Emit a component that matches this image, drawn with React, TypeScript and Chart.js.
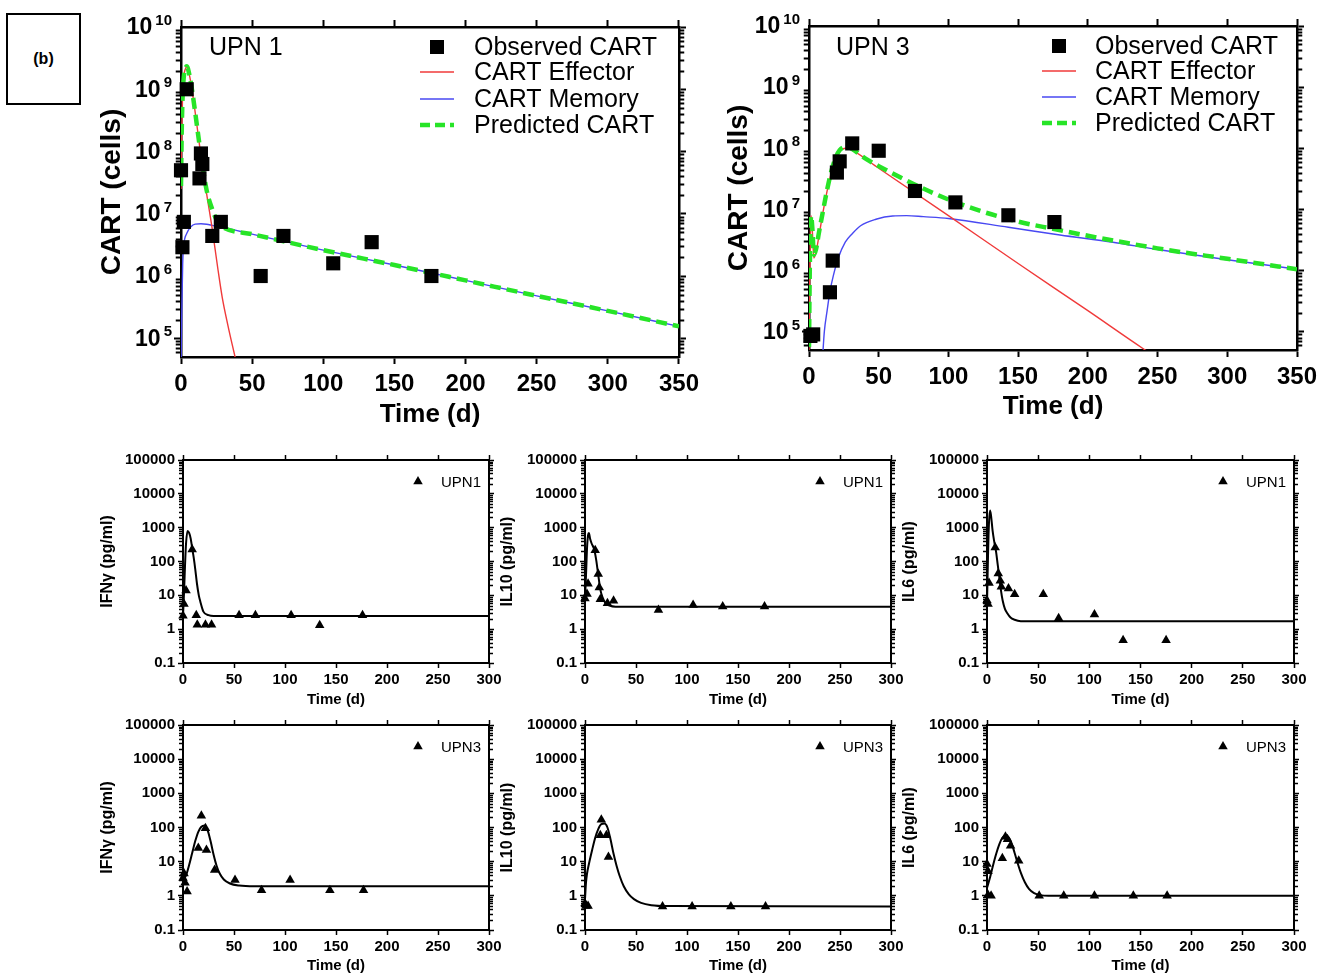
import React, { useEffect, useRef } from 'react';
import { Chart, registerables } from 'chart.js';

Chart.register(...registerables);

const FONT = "'Liberation Sans', Arial, 'DejaVu Sans', sans-serif";
const RED = '#f03a3a';
const BLUE = '#4848f2';
const GREEN = '#27e427';

// ---------- CAR-T kinetics, UPN 1 (days, cells) ----------
const upn1ObservedDays = [0, 1, 2, 4, 13, 14, 15, 22, 28, 56, 72, 107, 134, 176];
const upn1ObservedCells = [5.0e7, 2.9e6, 7.4e6, 1.0e9, 3.7e7, 9.3e7, 6.3e7, 4.4e6, 7.4e6, 1.0e6, 4.4e6, 1.6e6, 3.5e6, 1.0e6];

const upn1EffectorDays = [0, 0.5, 1, 2, 3, 4, 6, 8, 10, 12, 14, 18, 22, 26, 29, 33, 36, 38, 40];
const upn1EffectorCells = [2.5e7, 2.0e8, 6.3e8, 1.6e9, 2.1e9, 2.3e9, 1.66e9, 8.9e8, 4.2e8, 1.9e8, 8.5e7, 2.1e7, 5.6e6, 1.26e6, 4.5e5, 1.6e5, 7.9e4, 5.0e4, 3.2e4];

const upn1MemoryDays = [0, 0.6, 1.2, 2, 4, 7, 10, 14, 18, 22, 26, 30, 50, 100, 150, 200, 250, 300, 350];
const upn1MemoryCells = [3.0e4, 3.2e5, 1.6e6, 3.2e6, 4.8e6, 6.2e6, 6.8e6, 6.9e6, 6.8e6, 6.5e6, 6.2e6, 6.0e6, 4.7e6, 2.6e6, 1.5e6, 8.5e5, 4.8e5, 2.75e5, 1.55e5];

const upn1PredictedDays = [0, 0.5, 1, 2, 3, 4, 6, 8, 10, 12, 14, 18, 22, 26, 30, 50, 100, 150, 200, 250, 300, 350];
const upn1PredictedCells = [2.8e7, 2.0e8, 6.3e8, 1.6e9, 2.1e9, 2.35e9, 1.66e9, 8.9e8, 4.2e8, 1.9e8, 8.7e7, 2.4e7, 1.17e7, 7.2e6, 6.0e6, 4.7e6, 2.6e6, 1.5e6, 8.5e5, 4.8e5, 2.75e5, 1.55e5];

// ---------- CAR-T kinetics, UPN 3 (days, cells) ----------
const upn3ObservedDays = [1, 3, 15, 17, 20, 22, 31, 50, 76, 105, 143, 176];
const upn3ObservedCells = [8.5e4, 9.0e4, 4.4e5, 1.45e6, 4.0e7, 6.1e7, 1.2e8, 9.1e7, 2.0e7, 1.3e7, 8.0e6, 6.2e6];

const upn3EffectorDays = [0, 0.5, 1, 1.5, 2.5, 3.5, 5, 7, 10, 13, 16, 19, 22, 26, 30, 50, 100, 150, 200, 240, 250];
const upn3EffectorCells = [5.0e4, 6.3e5, 4.0e6, 7.9e6, 4.0e6, 1.6e6, 2.0e6, 3.5e6, 8.9e6, 2.0e7, 4.0e7, 6.6e7, 8.9e7, 1.0e8, 9.5e7, 4.7e7, 7.9e6, 1.3e6, 2.2e5, 5.2e4, 3.7e4];

const upn3MemoryDays = [9.8, 11, 13, 15, 17.5, 21, 26, 31, 37, 48, 60, 70, 82, 100, 143, 180, 218, 250, 300, 350];
const upn3MemoryCells = [4.0e4, 1.0e5, 2.2e5, 4.5e5, 8.3e5, 1.6e6, 2.9e6, 4.0e6, 5.4e6, 6.9e6, 7.8e6, 7.9e6, 7.6e6, 7.1e6, 5.1e6, 3.8e6, 2.9e6, 2.2e6, 1.5e6, 1.05e6];

const upn3PredictedDays = [0, 0.5, 1, 1.5, 2.5, 3.5, 5, 7, 10, 13, 16, 19, 22, 26, 30, 40, 50, 75, 100, 125, 150, 175, 200, 250, 300, 350];
const upn3PredictedCells = [5.6e4, 8.0e5, 4.0e6, 7.9e6, 4.5e6, 1.8e6, 2.2e6, 4.0e6, 9.3e6, 2.1e7, 4.2e7, 6.9e7, 9.3e7, 1.05e8, 1.0e8, 6.9e7, 5.1e7, 2.6e7, 1.45e7, 9.1e6, 6.3e6, 4.8e6, 3.7e6, 2.3e6, 1.55e6, 1.05e6];

// ---------- Cytokines, UPN 1 (days, pg/ml) ----------
const ifngUpn1Days = [0, 1, 3, 9, 13, 14, 22, 28, 55, 71, 106, 134, 176];
const ifngUpn1Values = [2.5, 5.5, 14, 225, 2.6, 1.35, 1.35, 1.35, 2.6, 2.6, 2.6, 1.3, 2.6];
const ifngUpn1FitDays = [0, 1, 2, 3, 4.5, 6, 7.5, 9, 10.5, 12, 13.7, 15.5, 17, 20, 25, 30, 300];
const ifngUpn1Fit = [2.5, 12, 80, 350, 800, 700, 480, 250, 130, 60, 22, 10, 6.5, 3.3, 2.6, 2.45, 2.45];

const il10Upn1Days = [0, 2, 3, 10, 13, 14, 15, 22, 28, 72, 106, 135, 176];
const il10Upn1Values = [8, 11, 22, 215, 43, 17, 7.6, 5.8, 6.9, 3.7, 5.2, 4.7, 4.7];
const il10Upn1FitDays = [0, 1, 2, 3, 3.8, 5, 6.5, 9, 11, 13, 15, 17, 20, 24, 30, 300];
const il10Upn1Fit = [8, 40, 250, 600, 700, 470, 340, 230, 110, 40, 15, 9, 6, 5, 4.6, 4.6];

const il6Upn1Days = [0, 1, 2, 8, 11, 13, 14, 21, 27, 55, 70, 105, 133, 175];
const il6Upn1Values = [7, 5.5, 23, 260, 44, 27, 18, 16, 10.7, 10.7, 2.1, 2.7, 0.47, 0.47];
const il6Upn1FitDays = [0, 0.5, 1, 1.5, 2, 3, 4, 5.5, 7, 8.8, 10.5, 12, 13.5, 15.3, 17.5, 20, 23, 27, 33, 40, 300];
const il6Upn1Fit = [5, 30, 150, 600, 1500, 3200, 2200, 800, 400, 200, 80, 35, 15, 7, 4, 2.9, 2.2, 1.9, 1.72, 1.7, 1.7];

// ---------- Cytokines, UPN 3 (days, pg/ml) ----------
const ifngUpn3Days = [0, 1, 2, 4, 15, 18, 22, 23, 31, 51, 77, 105, 144, 177];
const ifngUpn3Values = [3.3, 4.5, 2.4, 1.35, 25, 220, 95, 22, 5.7, 2.9, 1.45, 2.9, 1.45, 1.45];
const ifngUpn3FitDays = [0, 3, 6, 9, 12, 15, 18, 21, 24, 27, 30, 33, 36, 40, 46, 55, 70, 300];
const ifngUpn3Fit = [3, 4, 8, 18, 40, 75, 105, 115, 85, 40, 16, 7.5, 4.5, 3, 2.3, 2.0, 1.9, 1.9];

const il10Upn3Days = [0, 1, 3, 15, 16, 21, 23, 76, 105, 143, 177];
const il10Upn3Values = [0.6, 0.5, 0.5, 59, 170, 59, 13.6, 0.49, 0.49, 0.49, 0.49];
const il10Upn3FitDays = [0, 1, 2, 4, 7, 10, 13, 16, 19, 22, 25, 28, 31, 34, 38, 43, 48, 55, 65, 80, 300];
const il10Upn3Fit = [0.8, 2.5, 4.5, 9, 22, 50, 90, 125, 130, 100, 45, 17, 7.5, 3.8, 1.9, 1.1, 0.8, 0.62, 0.53, 0.5, 0.49];

const il6Upn3Days = [0, 1, 1, 4, 15, 18, 20, 23, 31, 51, 75, 105, 143, 176];
const il6Upn3Values = [8.5, 5.2, 1.05, 1.0, 12.6, 54, 45, 29, 10.7, 1.0, 1.0, 1.0, 1.0, 1.0];
const il6Upn3FitDays = [0, 3, 6, 9, 12, 15, 18, 21, 24, 27, 30, 33, 37, 41, 46, 52, 60, 300];
const il6Upn3Fit = [1.7, 3.5, 8, 17, 32, 50, 58, 52, 35, 18, 9, 4.8, 2.5, 1.6, 1.2, 1.05, 1.0, 1.0];

// ---------- Tick labels ----------
const cartTickExponents = [5, 6, 7, 8, 9, 10];
const cytokineTickLabels = ['0.1', '1', '10', '100', '1000', '10000', '100000'];

type Box = { x: number; y: number; w: number; h: number };
type Area = { l: number; t: number; r: number; b: number };
type LegendItem = { kind: 'square' | 'line' | 'dash' | 'triangle'; color: string; text: string };

interface PanelSpec {
  key: string;
  big: boolean;
  box: Box;
  area: Area;
  xMax: number;
  yMin: number;
  yMax: number;
  yTitle: string;
  yTitleX: number;
  xTitleY: number;
  datasets: any[];
  legend: { symX: number; textX: number; rows: number[]; items: LegendItem[]; font: string; lineHalf: number; markSize: number };
  note?: { text: string; x: number; y: number; font: string };
}

const BIG = { axisWidth: 2.5, tickMajor: 7, tickMinor: 4, tickWidth: 2, tickFont: 24, xTitleSize: 26, yTitleSize: 28, xTickPad: 6, yTickPad: 3 };
const SMALL = { axisWidth: 2, tickMajor: 5, tickMinor: 3, tickWidth: 1.5, tickFont: 15, xTitleSize: 15, yTitleSize: 16, xTickPad: 3, yTickPad: 3 };

const pts = (xs: number[], ys: number[]) => xs.map((x, i) => ({ x, y: ys[i] }));

function drawTriangle(ctx: CanvasRenderingContext2D, x: number, y: number, r: number) {
  ctx.beginPath();
  for (let k = 0; k < 3; k++) {
    const a = (k * 2 * Math.PI) / 3;
    const px = x + Math.sin(a) * r;
    const py = y - Math.cos(a) * r;
    if (k === 0) ctx.moveTo(px, py);
    else ctx.lineTo(px, py);
  }
  ctx.closePath();
  ctx.fill();
}

// Minor log ticks, superscript decade labels, in-plot legend and panel tag
const decorPlugin = {
  id: 'decor',
  afterDraw(chart: any, _args: any, opts: any) {
    const { ctx, chartArea } = chart;
    ctx.save();
    ctx.strokeStyle = '#000';
    ctx.fillStyle = '#000';

    const sides: [string, number][] = [['y', -1], ['yRight', 1]];
    for (const [id, dir] of sides) {
      const s = chart.scales[id];
      const x0 = dir < 0 ? chartArea.left : chartArea.right;
      const lo = Math.floor(Math.log10(s.min));
      const hi = Math.ceil(Math.log10(s.max));
      ctx.lineWidth = opts.minorWidth;
      for (let e = lo; e < hi; e++) {
        for (let k = 2; k <= 9; k++) {
          const v = k * Math.pow(10, e);
          if (v <= s.min || v >= s.max) continue;
          const py = Math.round(s.getPixelForValue(v)) + 0.5;
          ctx.beginPath();
          ctx.moveTo(x0, py);
          ctx.lineTo(x0 + dir * (opts.axisWidth / 2 + opts.minorLen), py);
          ctx.stroke();
        }
      }
    }

    if (opts.expLabels) {
      const s = chart.scales.y;
      ctx.textBaseline = 'middle';
      ctx.textAlign = 'right';
      for (const e of opts.expLabels as number[]) {
        const py = s.getPixelForValue(Math.pow(10, e));
        const xr = chartArea.left - 9;
        ctx.font = `bold 15px ${FONT}`;
        const ex = String(e);
        const w = ctx.measureText(ex).width;
        ctx.fillText(ex, xr, py - 6);
        ctx.font = `bold 23px ${FONT}`;
        ctx.fillText('10', xr - w - 3, py + 1);
      }
    }

    const lg = opts.legend;
    if (lg) {
      lg.items.forEach((it: LegendItem, i: number) => {
        const y = lg.rows[i];
        ctx.setLineDash([]);
        if (it.kind === 'square') {
          ctx.fillStyle = it.color;
          ctx.fillRect(lg.symX - lg.markSize / 2, y - lg.markSize / 2, lg.markSize, lg.markSize);
        } else if (it.kind === 'triangle') {
          ctx.fillStyle = it.color;
          drawTriangle(ctx, lg.symX, y, lg.markSize);
        } else {
          ctx.strokeStyle = it.color;
          ctx.lineWidth = it.kind === 'dash' ? 4.5 : 1.5;
          if (it.kind === 'dash') ctx.setLineDash([10, 5]);
          ctx.beginPath();
          ctx.moveTo(lg.symX - lg.lineHalf, y);
          ctx.lineTo(lg.symX + lg.lineHalf, y);
          ctx.stroke();
        }
        ctx.setLineDash([]);
        ctx.fillStyle = '#000';
        ctx.font = lg.font;
        ctx.textAlign = 'left';
        ctx.textBaseline = 'middle';
        ctx.fillText(it.text, lg.textX, y + 1);
      });
    }

    if (opts.note) {
      ctx.fillStyle = '#000';
      ctx.font = opts.note.font;
      ctx.textAlign = 'left';
      ctx.textBaseline = 'middle';
      ctx.fillText(opts.note.text, opts.note.x, opts.note.y + 1);
    }
    ctx.restore();
  },
};

const isDecade = (v: number) => Math.abs(Math.log10(v) - Math.round(Math.log10(v))) < 1e-6;

function buildConfig(spec: PanelSpec): any {
  const st = spec.big ? BIG : SMALL;
  const { box, area } = spec;
  const wL = area.l - box.x;
  const wR = box.x + box.w - area.r;
  const hT = area.t - box.y;
  const hB = box.y + box.h - area.b;
  const grid = {
    drawOnChartArea: false,
    drawTicks: true,
    tickLength: st.tickMajor,
    tickWidth: st.tickWidth,
    tickColor: '#000',
    color: '#000',
  };
  const border = { display: true, color: '#000', width: st.axisWidth };
  const keepDecades = (s: any) => {
    s.ticks = s.ticks.filter((t: any) => isDecade(t.value));
  };
  const xPadBottom = box.y + box.h - spec.xTitleY - 0.6 * st.xTitleSize;
  const yPadTop = spec.yTitleX - box.x - 0.6 * st.yTitleSize;
  const rel = (px: number) => px - box.x;
  const relY = (py: number) => py - box.y;

  return {
    type: 'line',
    data: { datasets: spec.datasets },
    options: {
      responsive: false,
      maintainAspectRatio: false,
      devicePixelRatio: 1,
      animation: false,
      events: [],
      layout: { padding: 0 },
      plugins: {
        legend: { display: false },
        tooltip: { enabled: false },
        decor: {
          minorLen: st.tickMinor,
          minorWidth: st.tickWidth,
          axisWidth: st.axisWidth,
          expLabels: spec.big ? cartTickExponents : null,
          legend: {
            ...spec.legend,
            symX: rel(spec.legend.symX),
            textX: rel(spec.legend.textX),
            rows: spec.legend.rows.map(relY),
          },
          note: spec.note ? { ...spec.note, x: rel(spec.note.x), y: relY(spec.note.y) } : null,
        },
      },
      scales: {
        x: {
          type: 'linear',
          position: 'bottom',
          min: 0,
          max: spec.xMax,
          afterFit: (s: any) => {
            s.height = hB;
          },
          ticks: {
            stepSize: 50,
            autoSkip: false,
            maxRotation: 0,
            padding: st.xTickPad,
            color: '#000',
            font: { family: FONT, size: st.tickFont, weight: 'bold' },
            callback: (v: number) => String(v),
          },
          grid,
          border,
          title: {
            display: true,
            text: 'Time (d)',
            color: '#000',
            font: { family: FONT, size: st.xTitleSize, weight: 'bold' },
            padding: { top: 0, bottom: xPadBottom },
          },
        },
        xTop: {
          type: 'linear',
          position: 'top',
          min: 0,
          max: spec.xMax,
          afterFit: (s: any) => {
            s.height = hT;
          },
          ticks: { display: false, stepSize: 50, autoSkip: false },
          grid,
          border,
        },
        y: {
          type: 'logarithmic',
          position: 'left',
          min: spec.yMin,
          max: spec.yMax,
          afterFit: (s: any) => {
            s.width = wL;
          },
          afterBuildTicks: keepDecades,
          ticks: {
            display: !spec.big,
            autoSkip: false,
            padding: st.yTickPad,
            color: '#000',
            font: { family: FONT, size: st.tickFont, weight: 'bold' },
            callback: (v: number) => cytokineTickLabels[Math.round(Math.log10(v)) + 1],
          },
          grid,
          border,
          title: {
            display: true,
            text: spec.yTitle,
            color: '#000',
            font: { family: FONT, size: st.yTitleSize, weight: 'bold' },
            padding: { top: yPadTop, bottom: 0 },
          },
        },
        yRight: {
          type: 'logarithmic',
          position: 'right',
          min: spec.yMin,
          max: spec.yMax,
          afterFit: (s: any) => {
            s.width = wR;
          },
          afterBuildTicks: keepDecades,
          ticks: { display: false, autoSkip: false },
          grid,
          border,
        },
      },
    },
    plugins: [decorPlugin],
  };
}

function cartDatasets(obsD: number[], obsC: number[], predD: number[], predC: number[], effD: number[], effC: number[], memD: number[], memC: number[]) {
  return [
    {
      label: 'Observed CART',
      data: pts(obsD, obsC),
      showLine: false,
      pointStyle: 'rect',
      pointRadius: 10,
      pointBackgroundColor: '#000',
      pointBorderColor: '#000',
      pointBorderWidth: 0,
      clip: false,
    },
    {
      label: 'Predicted CART',
      data: pts(predD, predC),
      borderColor: GREEN,
      borderWidth: 4.5,
      borderDash: [11, 6],
      pointRadius: 0,
      cubicInterpolationMode: 'monotone',
    },
    {
      label: 'CART Effector',
      data: pts(effD, effC),
      borderColor: RED,
      borderWidth: 1.4,
      pointRadius: 0,
      cubicInterpolationMode: 'monotone',
    },
    {
      label: 'CART Memory',
      data: pts(memD, memC),
      borderColor: BLUE,
      borderWidth: 1.4,
      pointRadius: 0,
      cubicInterpolationMode: 'monotone',
    },
  ];
}

function cytokineDatasets(obsD: number[], obsV: number[], fitD: number[], fitV: number[], label: string) {
  return [
    {
      label,
      data: pts(obsD, obsV),
      showLine: false,
      pointStyle: 'triangle',
      pointRadius: 5.5,
      pointBackgroundColor: '#000',
      pointBorderColor: '#000',
      pointBorderWidth: 0,
      clip: false,
    },
    {
      label: label + ' model',
      data: pts(fitD, fitV),
      borderColor: '#000',
      borderWidth: 2,
      pointRadius: 0,
      cubicInterpolationMode: 'monotone',
    },
  ];
}

const cartLegendItems: LegendItem[] = [
  { kind: 'square', color: '#000', text: 'Observed CART' },
  { kind: 'line', color: RED, text: 'CART Effector' },
  { kind: 'line', color: BLUE, text: 'CART Memory' },
  { kind: 'dash', color: GREEN, text: 'Predicted CART' },
];

const bigPanels: PanelSpec[] = [
  {
    key: 'cart-upn1',
    big: true,
    box: { x: 90, y: 8, w: 615, h: 429 },
    area: { l: 181, t: 27, r: 679, b: 357 },
    xMax: 350,
    yMin: 5e4,
    yMax: 1e10,
    yTitle: 'CART (cells)',
    yTitleX: 112,
    xTitleY: 415,
    datasets: cartDatasets(upn1ObservedDays, upn1ObservedCells, upn1PredictedDays, upn1PredictedCells, upn1EffectorDays, upn1EffectorCells, upn1MemoryDays, upn1MemoryCells),
    legend: { symX: 437, textX: 474, rows: [47, 72, 99, 125], items: cartLegendItems, font: `25px ${FONT}`, lineHalf: 17, markSize: 14 },
    note: { text: 'UPN 1', x: 209, y: 47, font: `25px ${FONT}` },
  },
  {
    key: 'cart-upn3',
    big: true,
    box: { x: 718, y: 8, w: 614, h: 429 },
    area: { l: 809, t: 26, r: 1297, b: 350 },
    xMax: 350,
    yMin: 5e4,
    yMax: 1e10,
    yTitle: 'CART (cells)',
    yTitleX: 739,
    xTitleY: 407,
    datasets: cartDatasets(upn3ObservedDays, upn3ObservedCells, upn3PredictedDays, upn3PredictedCells, upn3EffectorDays, upn3EffectorCells, upn3MemoryDays, upn3MemoryCells),
    legend: { symX: 1059, textX: 1095, rows: [46, 71, 97, 123], items: cartLegendItems, font: `25px ${FONT}`, lineHalf: 17, markSize: 14 },
    note: { text: 'UPN 3', x: 836, y: 47, font: `25px ${FONT}` },
  },
];

const smallCols = [
  { l: 183, r: 489, titleX: 108 },
  { l: 585, r: 891, titleX: 508 },
  { l: 986.5, r: 1293.5, titleX: 909 },
];
const smallRows = [
  { t: 459.5, b: 663, bottom: 711, titleY: 700 },
  { t: 725, b: 930, bottom: 976, titleY: 966 },
];

function smallPanel(key: string, row: number, col: number, yTitle: string, patient: string, datasets: any[]): PanelSpec {
  const c = smallCols[col];
  const r = smallRows[row];
  const box = { x: c.l - 90, y: r.t - 12, w: c.r + 16 - (c.l - 90), h: r.bottom - (r.t - 12) };
  return {
    key,
    big: false,
    box,
    area: { l: c.l, t: r.t, r: c.r, b: r.b },
    xMax: 300,
    yMin: 0.1,
    yMax: 100000,
    yTitle,
    yTitleX: c.titleX,
    xTitleY: r.titleY,
    datasets,
    legend: {
      symX: c.r - 71,
      textX: c.r - 48,
      rows: [r.t + 21.5],
      items: [{ kind: 'triangle', color: '#000', text: patient }],
      font: `15px ${FONT}`,
      lineHalf: 0,
      markSize: 5.5,
    },
  };
}

const smallPanels: PanelSpec[] = [
  smallPanel('ifng-upn1', 0, 0, 'IFNγ (pg/ml)', 'UPN1', cytokineDatasets(ifngUpn1Days, ifngUpn1Values, ifngUpn1FitDays, ifngUpn1Fit, 'UPN1')),
  smallPanel('il10-upn1', 0, 1, 'IL10 (pg/ml)', 'UPN1', cytokineDatasets(il10Upn1Days, il10Upn1Values, il10Upn1FitDays, il10Upn1Fit, 'UPN1')),
  smallPanel('il6-upn1', 0, 2, 'IL6 (pg/ml)', 'UPN1', cytokineDatasets(il6Upn1Days, il6Upn1Values, il6Upn1FitDays, il6Upn1Fit, 'UPN1')),
  smallPanel('ifng-upn3', 1, 0, 'IFNγ (pg/ml)', 'UPN3', cytokineDatasets(ifngUpn3Days, ifngUpn3Values, ifngUpn3FitDays, ifngUpn3Fit, 'UPN3')),
  smallPanel('il10-upn3', 1, 1, 'IL10 (pg/ml)', 'UPN3', cytokineDatasets(il10Upn3Days, il10Upn3Values, il10Upn3FitDays, il10Upn3Fit, 'UPN3')),
  smallPanel('il6-upn3', 1, 2, 'IL6 (pg/ml)', 'UPN3', cytokineDatasets(il6Upn3Days, il6Upn3Values, il6Upn3FitDays, il6Upn3Fit, 'UPN3')),
];

const allPanels = [...bigPanels, ...smallPanels];

function Panel({ spec }: { spec: PanelSpec }) {
  const ref = useRef<HTMLCanvasElement | null>(null);
  useEffect(() => {
    if (!ref.current) return;
    const chart = new Chart(ref.current, buildConfig(spec));
    return () => chart.destroy();
  }, [spec]);
  return (
    <canvas
      ref={ref}
      width={spec.box.w}
      height={spec.box.h}
      style={{ position: 'absolute', left: spec.box.x, top: spec.box.y, width: spec.box.w, height: spec.box.h }}
    />
  );
}

export default function App() {
  return (
    <div style={{ position: 'absolute', left: 0, top: 0, width: 1332, height: 976, overflow: 'hidden', background: '#fff' }}>
      <div
        style={{
          position: 'absolute',
          left: 6,
          top: 13,
          width: 75,
          height: 92,
          boxSizing: 'border-box',
          border: '2px solid #000',
          display: 'flex',
          alignItems: 'center',
          justifyContent: 'center',
          fontFamily: FONT,
          fontWeight: 'bold',
          fontSize: 16,
          color: '#000',
        }}
      >
        (b)
      </div>
      {allPanels.map((p) => (
        <Panel key={p.key} spec={p} />
      ))}
    </div>
  );
}
